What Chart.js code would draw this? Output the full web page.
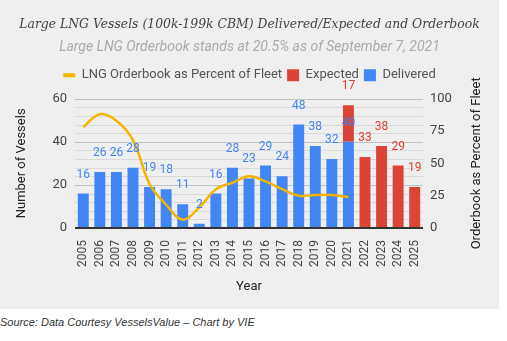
<!DOCTYPE html>
<html>
<head>
<meta charset="utf-8">
<script src="https://cdn.jsdelivr.net/npm/chart.js@4/dist/chart.umd.min.js"></script>
<style>
  body { margin: 0; background: #fff; }
  #wrap { width: 499px; height: 309px; background: #efefef; }
  .source { margin: 7px 0 0 0; font: italic 11px "Liberation Sans", Arial, sans-serif; color: #333; }
</style>
</head>
<body>
<div id="wrap"><canvas id="chart" width="499" height="309"></canvas></div>
<p class="source">Source: Data Courtesy VesselsValue – Chart by VIE</p>
<script>
// --- Data ---
const years = ['2005','2006','2007','2008','2009','2010','2011','2012','2013','2014','2015',
               '2016','2017','2018','2019','2020','2021','2022','2023','2024','2025'];
const delivered = [16, 26, 26, 28, 19, 18, 11, 2, 16, 28, 23, 29, 24, 48, 38, 32, 40, null, null, null, null];
const expected = [null, null, null, null, null, null, null, null, null, null, null, null, null, null, null, null, 17, 33, 38, 29, 19];
const orderbookPct = [78, 88, 83, 68, 34, 18, 6.5, 16, 30, 35, 40, 36, 30, 25, 25.5, 25.5, 24, null, null, null, null];
const leftTicks = [0, 20, 40, 60];
const rightTicks = [0, 25, 50, 75, 100];

const BLUE = '#4285f4', RED = '#db4437', ORANGE = '#f4b400';

// pixel row of a left-axis value
function rowFor(chart, v) {
    const a = chart.chartArea;
    const s = chart.scales.y;
    let py = s.getPixelForValue(v);
    if (!isFinite(py)) py = a.bottom - (v - s.min) / (s.max - s.min) * (a.bottom - a.top);
    return Math.round(py);
}

// --- Gridlines (major + minor), value labels, axis titles ---
const extras = {
    id: 'extras',
    afterInit(chart) {
        // extra room under the legend before the plot
        const legend = chart.legend;
        const fit = legend.fit;
        legend.fit = function () {
            fit.call(this);
            this.height += 7;
        };
    },
    afterDatasetsDraw(chart) {
        const ctx = chart.ctx;
        const a = chart.chartArea;
        const w = a.right - a.left;
        ctx.save();

        // gridlines every 4 vessels, slipped behind the bars
        ctx.globalCompositeOperation = 'destination-over';
        for (let v = 4; v <= 60; v += 4) {
            ctx.fillStyle = leftTicks.includes(v) ? '#c2c2c2' : '#d9d9d9';
            ctx.fillRect(a.left, rowFor(chart, v), w, 1);
        }
        ctx.globalCompositeOperation = 'source-over';

        // baseline
        ctx.fillStyle = '#333';
        ctx.fillRect(a.left, rowFor(chart, 0) - 1, w, 2);

        ctx.font = '12px Roboto';
        ctx.textAlign = 'center';
        ctx.textBaseline = 'middle';
        chart.data.datasets.forEach((ds, i) => {
            if (ds.type === 'line') return;
            const meta = chart.getDatasetMeta(i);
            ctx.fillStyle = ds.backgroundColor;
            meta.data.forEach((bar, j) => {
                if (ds.data[j] == null) return;
                ctx.fillText(ds.data[j], bar.x, bar.y - 19);
            });
        });

        const midY = (a.top + a.bottom) / 2;
        ctx.font = '13px Roboto';
        ctx.fillStyle = '#222';
        ctx.save();
        ctx.translate(22, midY);
        ctx.rotate(-Math.PI / 2);
        ctx.fillText('Number of Vessels', 0, 0);
        ctx.restore();
        ctx.save();
        ctx.translate(477, midY);
        ctx.rotate(-Math.PI / 2);
        ctx.fillText('Orderbook as Percent of Fleet', 0, 0);
        ctx.restore();
        ctx.fillText('Year', (a.left + a.right) / 2, 287);
        ctx.restore();
    }
};

new Chart(document.getElementById('chart'), {
    data: {
        labels: years,
        datasets: [
            {
                type: 'line',
                label: 'LNG Orderbook as Percent of Fleet',
                data: orderbookPct,
                yAxisID: 'y1',
                borderColor: ORANGE,
                backgroundColor: ORANGE,
                borderWidth: 2.5,
                pointRadius: 0,
                tension: 0.4,
                order: 0
            },
            {
                type: 'bar',
                label: 'Delivered',
                data: delivered,
                yAxisID: 'y',
                backgroundColor: BLUE,
                stack: 's',
                order: 1
            },
            {
                type: 'bar',
                label: 'Expected',
                data: expected,
                yAxisID: 'y',
                backgroundColor: RED,
                stack: 's',
                order: 1
            }
        ]
    },
    options: {
        responsive: false,
        animation: false,
        layout: { padding: { left: 0, right: 0, top: 0, bottom: 38 } },
        datasets: { bar: { barPercentage: 0.66, categoryPercentage: 1 } },
        plugins: {
            title: {
                display: true,
                text: 'Large LNG Vessels (100k-199k CBM) Delivered/Expected and Orderbook',
                color: '#444',
                font: { family: 'DejaVu Serif', style: 'italic', size: 12.4, weight: 'normal' },
                padding: { top: 17, bottom: 7 }
            },
            subtitle: {
                display: true,
                text: 'Large LNG Orderbook stands at 20.5% as of September 7, 2021',
                color: '#aaa',
                font: { family: 'Roboto', style: 'italic', size: 14 },
                padding: { top: 0, bottom: 8 }
            },
            legend: {
                labels: {
                    color: '#555',
                    font: { family: 'Roboto', size: 13 },
                    usePointStyle: true,
                    pointStyleWidth: 12,
                    boxWidth: 12,
                    boxHeight: 12,
                    padding: 5,
                    generateLabels: () => [
                        { text: 'LNG Orderbook as Percent of Fleet', pointStyle: 'line', strokeStyle: ORANGE, fillStyle: ORANGE, lineWidth: 4, fontColor: '#555' },
                        { text: 'Expected', pointStyle: 'rect', fillStyle: RED, strokeStyle: RED, lineWidth: 0, fontColor: '#555' },
                        { text: 'Delivered', pointStyle: 'rect', fillStyle: BLUE, strokeStyle: BLUE, lineWidth: 0, fontColor: '#555' }
                    ]
                }
            },
            tooltip: { enabled: false }
        },
        scales: {
            x: {
                stacked: true,
                grid: { display: false },
                border: { display: false },
                ticks: {
                    color: '#444',
                    font: { family: 'Roboto', size: 12 },
                    minRotation: 90,
                    maxRotation: 90,
                    autoSkip: false,
                    padding: 4
                }
            },
            y: {
                position: 'left',
                stacked: true,
                min: 0,
                max: 60,
                afterFit: s => { s.width = 75; },
                grid: { display: false, drawTicks: false },
                border: { display: false },
                ticks: {
                    stepSize: 4,
                    color: '#444',
                    font: { family: 'Roboto', size: 13 },
                    padding: 8,
                    autoSkip: false,
                    callback: v => leftTicks.includes(v) ? v : ''
                }
            },
            y1: {
                position: 'right',
                min: 0,
                max: 100,
                afterFit: s => { s.width = 76; },
                grid: { display: false, drawTicks: false },
                border: { display: false },
                ticks: {
                    stepSize: 25,
                    color: '#444',
                    font: { family: 'Roboto', size: 13 },
                    padding: 7,
                    autoSkip: false
                }
            }
        }
    },
    plugins: [extras]
});
</script>
</body>
</html>
